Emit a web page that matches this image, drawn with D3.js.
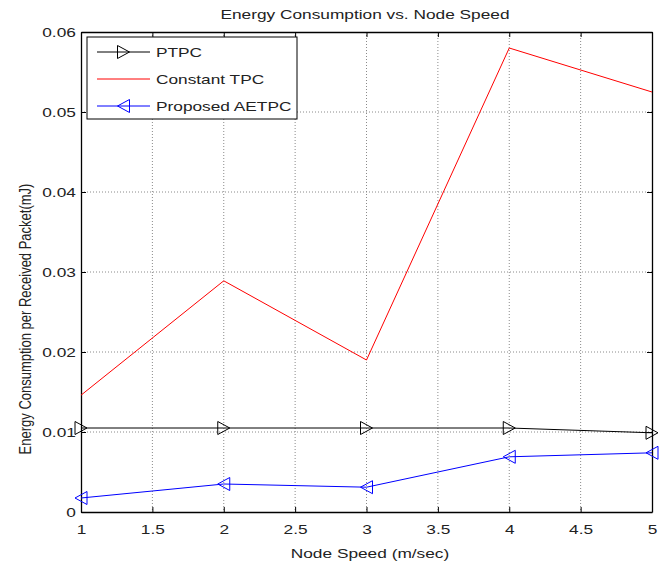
<!DOCTYPE html>
<html>
<head>
<meta charset="utf-8">
<script src="https://cdn.jsdelivr.net/npm/d3@7"></script>
<style>
  body { margin: 0; background: #fff; }
  text { font-family: "Liberation Sans", Arial, sans-serif; fill: #222; }
</style>
</head>
<body>
<div class="chart-area"></div>
<script>
const width = 670
const height = 565
const margin = { top: 32, right: 18, bottom: 53, left: 81 }
const stretch = 1.28 // the picture's text is drawn wide

// data
const speeds = [1, 2, 3, 4, 5]
const ptpc = [0.0105, 0.0105, 0.0105, 0.0105, 0.0099]
const constantTpc = [0.0146, 0.0289, 0.0190, 0.0580, 0.0525]
const aetpc = [0.00175, 0.0035, 0.0031, 0.0069, 0.0074]
const xTicks = [1, 1.5, 2, 2.5, 3, 3.5, 4, 4.5, 5]
const yTicks = [0, 0.01, 0.02, 0.03, 0.04, 0.05, 0.06]

const series = [
    { name: 'PTPC', values: ptpc, color: '#000', marker: 'right' },
    { name: 'Constant TPC', values: constantTpc, color: '#ff0000', marker: null },
    { name: 'Proposed AETPC', values: aetpc, color: '#0000ff', marker: 'left' }
]

const svg = d3.select('.chart-area').append('svg')
    .attr('width', width)
    .attr('height', height)

const x = d3.scaleLinear().domain([1, 5]).range([margin.left, width - margin.right])
const y = d3.scaleLinear().domain([0, 0.06]).range([height - margin.bottom, margin.top])

const x0 = margin.left, x1 = width - margin.right
const y0 = height - margin.bottom, y1 = margin.top

// grid
svg.append('g').selectAll('line')
    .data(xTicks.slice(1, -1))
    .enter().append('line')
    .attr('x1', d => x(d)).attr('x2', d => x(d))
    .attr('y1', y1).attr('y2', y0)
    .attr('stroke', '#8a8a8a').attr('stroke-dasharray', '1,2')
svg.append('g').selectAll('line')
    .data(yTicks.slice(1, -1))
    .enter().append('line')
    .attr('x1', x0).attr('x2', x1)
    .attr('y1', d => y(d)).attr('y2', d => y(d))
    .attr('stroke', '#8a8a8a').attr('stroke-dasharray', '1,2')

// axes, ticks pointing inward
const fmtY = d => d === 0 ? '0' : d3.format('.2f')(d)
svg.append('g').attr('transform', `translate(0,${y0})`)
    .call(d3.axisBottom(x).tickValues(xTicks).tickSizeInner(-5).tickSizeOuter(0).tickPadding(12).tickFormat(d3.format('')))
svg.append('g').attr('transform', `translate(0,${y1})`)
    .call(d3.axisTop(x).tickValues(xTicks).tickSizeInner(-5).tickSizeOuter(0).tickFormat(''))
svg.append('g').attr('transform', `translate(${x0},0)`)
    .call(d3.axisLeft(y).tickValues(yTicks).tickSizeInner(-5).tickSizeOuter(0).tickPadding(4).tickFormat(fmtY))
svg.append('g').attr('transform', `translate(${x1},0)`)
    .call(d3.axisRight(y).tickValues(yTicks).tickSizeInner(-5).tickSizeOuter(0).tickFormat(''))

svg.selectAll('.domain').attr('stroke', '#000').attr('stroke-width', 1.3)
svg.selectAll('.tick line').attr('stroke', '#000')
svg.selectAll('.tick text')
    .attr('font-size', 13.5)
    .attr('transform', `scale(${stretch},1)`)
    .style('fill', '#222')

// lines
const line = d3.line().x((d, i) => x(speeds[i])).y(d => y(d))

function triangle(dir) {
    const w = 6, h = 6.5
    if (dir === 'right') return `M${-w},${-h}L${w},0L${-w},${h}Z`
    return `M${w},${-h}L${-w},0L${w},${h}Z`
}

series.forEach(s => {
    svg.append('path')
        .datum(s.values)
        .attr('d', line)
        .attr('fill', 'none')
        .attr('stroke', s.color)
        .attr('stroke-width', 1)
    if (s.marker) {
        svg.append('g').selectAll('path')
            .data(s.values)
            .enter().append('path')
            .attr('transform', (d, i) => `translate(${x(speeds[i])},${y(d)})`)
            .attr('d', triangle(s.marker))
            .attr('fill', 'none')
            .attr('stroke', s.color)
    }
})

// wide text helper
function wideText(px, py, str, size, anchor) {
    return svg.append('text')
        .attr('transform', `translate(${px},${py}) scale(${stretch},1)`)
        .attr('text-anchor', anchor || 'start')
        .attr('font-size', size)
        .text(str)
}

// legend
svg.append('rect')
    .attr('x', 87).attr('y', 37).attr('width', 210).attr('height', 82)
    .attr('fill', '#fff').attr('stroke', '#000')
series.forEach((s, i) => {
    const ly = 52 + i * 27
    svg.append('line')
        .attr('x1', 97).attr('x2', 150).attr('y1', ly).attr('y2', ly)
        .attr('stroke', s.color)
    if (s.marker) {
        svg.append('path')
            .attr('transform', `translate(123.5,${ly})`)
            .attr('d', triangle(s.marker))
            .attr('fill', 'none').attr('stroke', s.color)
    }
    wideText(156, ly + 5, s.name, 13.5)
})

// titles
wideText(365, 19, 'Energy Consumption vs. Node Speed', 13.5, 'middle')
wideText(370, 558, 'Node Speed (m/sec)', 13.5, 'middle')
svg.append('text')
    .attr('transform', `translate(31,319) scale(${stretch},1) rotate(-90)`)
    .attr('text-anchor', 'middle').attr('font-size', 13)
    .text('Energy Consumption per Received Packet(mJ)')
</script>
</body>
</html>
